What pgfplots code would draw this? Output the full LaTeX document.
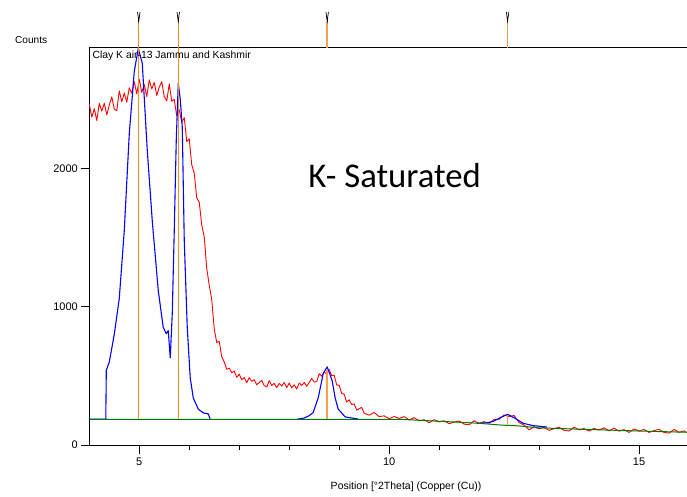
\documentclass[border=0pt]{standalone}
\usepackage{pgfplots}
\pgfplotsset{compat=1.18}
\usepackage{fontspec}
\setmainfont{Liberation Sans}
\newfontfamily\carlito{Carlito}
\definecolor{xred}{RGB}{255,0,0}
\definecolor{xblue}{RGB}{0,0,255}
\definecolor{xgreen}{RGB}{0,120,0}
\definecolor{xorange}{RGB}{255,140,26}
\definecolor{xpeach}{RGB}{248,160,80}
\begin{document}
\begin{tikzpicture}
\begin{axis}[name=main, scale only axis, width=597.7pt, height=398pt,
 xmin=4, xmax=15.96, ymin=-7.2, ymax=2869.5,
 axis x line=box, axis y line=left,
 axis line style={-, line width=1pt, black},
 xtick={5,10,15}, minor xtick={6,7,8,9,11,12,13,14}, ytick={0,1000,2000},
 xtick pos=left, ytick pos=left, tick align=outside,
 major tick length=8pt, minor tick length=4pt,
 tick style={black, line width=0.8pt},
 tick label style={font=\fontsize{11}{13}\selectfont},
 /pgf/number format/assume math mode=true,
 /pgf/number format/1000 sep={},
 xlabel={Position [°2Theta] (Copper (Cu))},
 xlabel style={at={(axis description cs:0.53,0)}, anchor=base, yshift=-43.5pt, font=\fontsize{10.5}{12}\selectfont},
 clip=false,
]
% red measured pattern
\addplot[xred, line width=0.9pt, line join=round] coordinates {
(4.00,2463)(4.05,2370)(4.10,2431)(4.15,2345)(4.20,2469)(4.25,2413)(4.30,2470)(4.35,2386)(4.40,2457)(4.45,2516)
(4.50,2428)(4.55,2417)(4.60,2560)(4.65,2481)(4.70,2543)(4.75,2478)(4.80,2582)(4.85,2543)(4.90,2626)(4.95,2538)
(5.00,2643)(5.05,2548)(5.10,2606)(5.15,2518)(5.20,2639)(5.25,2574)(5.30,2620)(5.35,2527)(5.40,2587)(5.45,2626)
(5.50,2518)(5.55,2487)(5.60,2610)(5.65,2484)(5.70,2498)(5.75,2376)(5.80,2422)(5.85,2333)(5.90,2366)(5.95,2193)
(6.00,2213)(6.05,2025)(6.10,1965)(6.15,1785)(6.20,1755)(6.25,1590)(6.30,1505)(6.35,1275)(6.40,1155)(6.45,1050)
(6.50,840)(6.55,740)(6.60,750)(6.65,637)(6.70,600)(6.75,547)(6.80,555)(6.85,522)(6.90,534)(6.95,489)
(7.00,512)(7.05,472)(7.10,487)(7.15,450)(7.20,487)(7.25,460)(7.30,472)(7.35,435)(7.40,452)(7.45,467)
(7.50,430)(7.55,420)(7.60,465)(7.65,430)(7.70,445)(7.75,415)(7.80,445)(7.85,426)(7.90,452)(7.95,415)
(8.00,447)(8.05,414)(8.10,435)(8.15,404)(8.20,448)(8.25,430)(8.30,452)(8.35,425)(8.40,452)(8.45,480)
(8.50,455)(8.55,458)(8.60,515)(8.65,497)(8.70,530)(8.75,512)(8.80,545)(8.85,502)(8.90,504)(8.95,434)
(9.00,432)(9.05,372)(9.10,367)(9.15,310)(9.20,327)(9.25,293)(9.30,297)(9.35,252)(9.40,262)(9.45,272)
(9.50,230)(9.60,216)(9.70,235)(9.80,205)(9.90,211)(10.00,190)(10.10,206)(10.20,192)(10.30,205)(10.40,181)
(10.50,198)(10.60,174)(10.70,183)(10.80,161)(10.90,183)(11.00,167)(11.10,175)(11.20,154)(11.30,165)(11.40,174)
(11.50,151)(11.60,146)(11.70,175)(11.80,156)(11.90,169)(12.00,157)(12.10,185)(12.20,186)(12.30,217)(12.40,206)
(12.50,213)(12.60,162)(12.70,144)(12.80,110)(12.90,132)(13.00,117)(13.10,126)(13.20,106)(13.30,118)(13.40,128)
(13.50,106)(13.60,101)(13.70,129)(13.80,109)(13.90,119)(14.00,101)(14.10,120)(14.20,109)(14.30,124)(14.40,102)
(14.50,122)(14.60,100)(14.70,111)(14.80,91)(14.90,116)(15.00,102)(15.10,112)(15.20,91)(15.30,104)(15.40,113)
(15.50,91)(15.60,86)(15.70,113)(15.80,92)(15.90,102)(15.96,88)
};
% blue fitted profile segments
\addplot[xblue, line width=1.1pt, line join=round] coordinates {
(4.00,186)(4.33,186)(4.34,540)(4.40,600)(4.50,800)(4.60,1060)(4.70,1550)(4.80,2250)(4.90,2700)(4.98,2866)
(5.06,2760)(5.16,2130)(5.26,1620)(5.38,1115)(5.48,850)(5.54,805)(5.58,826)(5.62,630)(5.66,950)(5.70,1550)
(5.74,2200)(5.78,2615)(5.82,2500)(5.86,2300)(5.90,1480)(5.96,850)(6.02,485)(6.08,340)(6.18,260)(6.28,232)
(6.38,225)(6.42,186)
};
\addplot[xblue, line width=1.1pt, line join=round] coordinates {
(8.16,186)(8.30,195)(8.40,212)(8.48,235)(8.58,340)(8.68,515)(8.76,565)(8.86,464)(8.92,340)(8.98,260)
(9.12,203)(9.38,188)
};
\addplot[xblue, line width=1.1pt, line join=round] coordinates {
(11.76,157)(11.95,160)(12.08,170)(12.22,197)(12.37,222)(12.52,193)(12.68,157)(12.88,140)(13.16,130)
};
% green background
\addplot[xgreen, line width=1pt] coordinates {
(4.00,186)(10.20,186)(11.20,168)(11.80,157)(12.20,145)(12.60,138)(13.00,124)(13.50,118)(14.00,112)(15.00,101)(15.96,92)
};
% reference peak lines
\addplot[xorange, line width=1pt] coordinates {(4.99,186)(4.99,3057)};
\addplot[xorange, line width=1pt] coordinates {(5.78,186)(5.78,3057)};
\addplot[xpeach, line width=1.4pt] coordinates {(8.76,186)(8.76,545)};
\addplot[xpeach, line width=1.4pt] coordinates {(8.76,2869.5)(8.76,3057)};
\addplot[xpeach, line width=1.4pt] coordinates {(12.37,145)(12.37,215)};
\addplot[xpeach, line width=1.4pt] coordinates {(12.37,2869.5)(12.37,3057)};
% markers on top
\addplot[black, line width=0.7pt] coordinates {(4.965,3130)(4.99,3062)(5.015,3130)};
\addplot[black, line width=1.2pt] coordinates {(4.99,3057)(4.99,3090)};
\addplot[black, line width=0.7pt] coordinates {(5.755,3130)(5.78,3062)(5.805,3130)};
\addplot[black, line width=1.2pt] coordinates {(5.78,3057)(5.78,3090)};
\addplot[black, line width=0.7pt] coordinates {(8.735,3130)(8.76,3062)(8.785,3130)};
\addplot[black, line width=1.2pt] coordinates {(8.76,3057)(8.76,3090)};
\addplot[black, line width=0.7pt] coordinates {(12.345,3130)(12.37,3062)(12.395,3130)};
\addplot[black, line width=1.2pt] coordinates {(12.37,3057)(12.37,3090)};
% texts
\node[anchor=base west, inner sep=0, xshift=3pt, yshift=-10.4pt, font=\fontsize{10.4}{12}\selectfont] at (rel axis cs:0,1) {Clay K air-13 Jammu and Kashmir};
\node[anchor=base west, inner sep=0, xshift=-74.3pt, yshift=4pt, font=\fontsize{10.1}{12}\selectfont] at (rel axis cs:0,1) {Counts};
\node[anchor=base, inner sep=0, font=\carlito\fontsize{34.7}{40}\selectfont] at (axis cs:10.11,1858) {K- Saturated};
\end{axis}
\pgfresetboundingbox
\path[use as bounding box] ([shift={(-89.3pt,-51pt)}]main.south west) rectangle ([shift={(0pt,48pt)}]main.north east);
\end{tikzpicture}
\end{document}
